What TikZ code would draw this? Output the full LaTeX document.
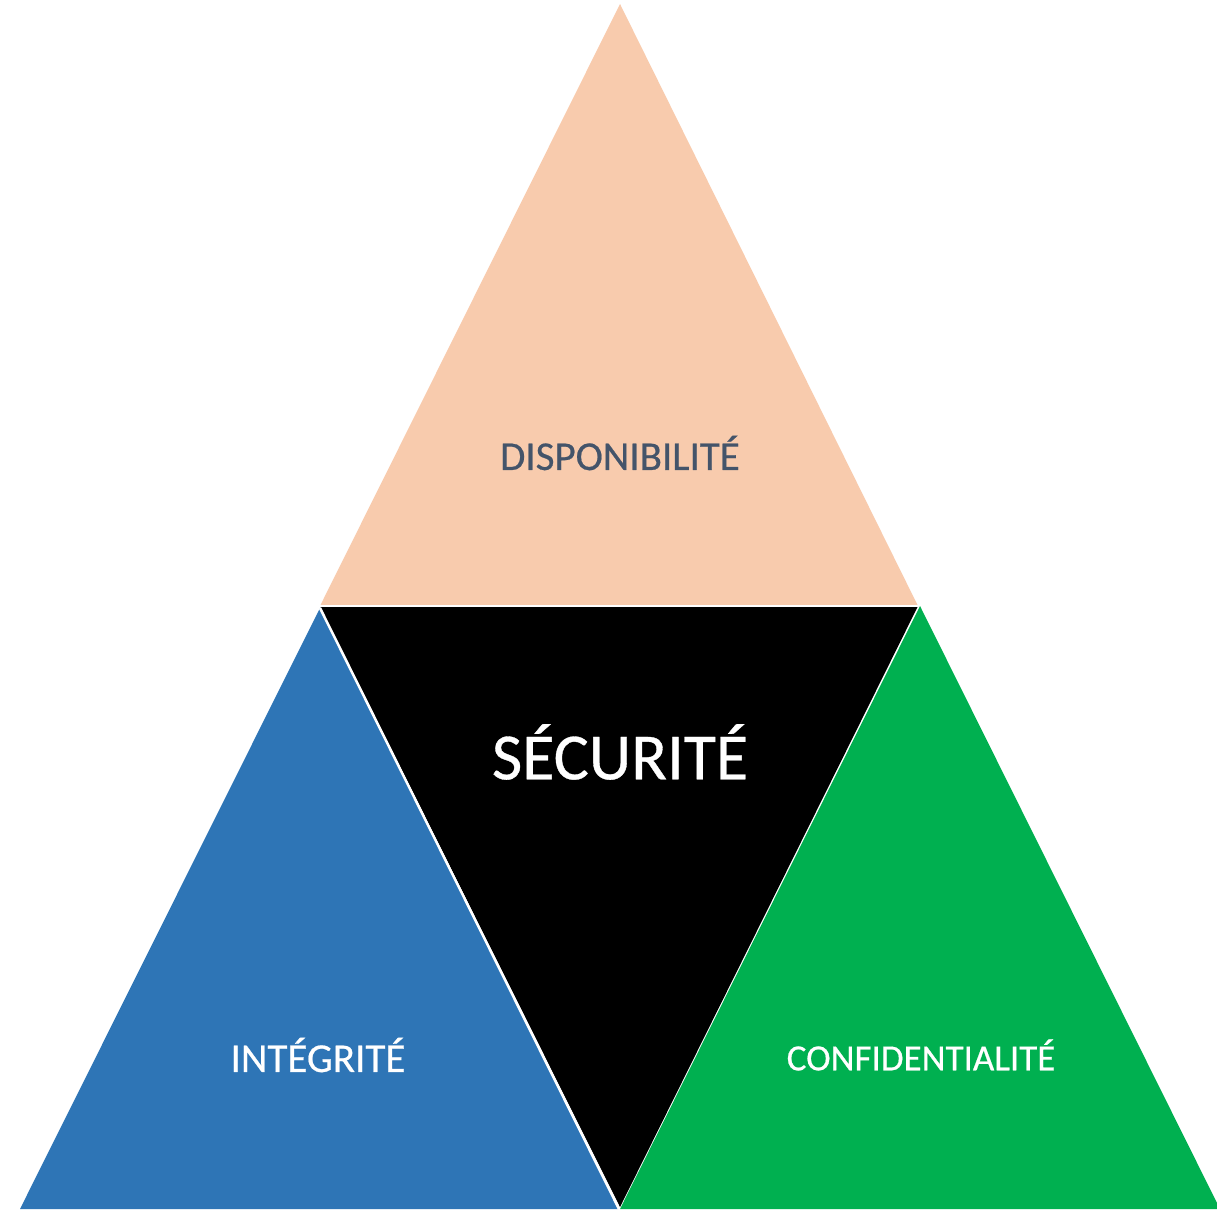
\documentclass[tikz,border=0pt]{standalone}
\usepackage{fontspec}
\setmainfont{Carlito}
\newfontfamily\lblfont{Carlito}[FakeBold=0.5]
\definecolor{peach}{HTML}{F8CBAD}
\definecolor{ibblue}{HTML}{2E75B6}
\definecolor{ibgreen}{HTML}{00B050}
\definecolor{slate}{HTML}{44546A}
\begin{document}
\begin{tikzpicture}[x=1pt,y=-1pt,
  sep/.style={draw=white,line width=2.5pt},
  lbl/.style={inner sep=0pt,font=\lblfont\fontsize{41}{41}\selectfont}]
\useasboundingbox[fill=white] (0,0) rectangle (1217,1211);
\begin{scope}
\clip (0,0) rectangle (1217,1211);
\fill[peach] (620,4) -- (918,606) -- (320,606) -- cycle;
\fill[black] (320,606) -- (918,606) -- (620,1207) -- cycle;
\fill[ibblue] (320,608) -- (618,1209) -- (20,1209) -- cycle;
\fill[ibgreen] (920,606) -- (1220,1209) -- (620,1209) -- cycle;
\draw[sep] (320,606) -- (918,606);
\draw[sep] (320,608) -- (619,1209);
\end{scope}
\node[lbl,text=slate] (dispo) at (620,453) {DISPONIBILITÉ};
\node[lbl,text=white,font=\lblfont\fontsize{66}{66}\selectfont] (secu) at (620,752) {SÉCURITÉ};
\node[lbl,text=white] (integ) at (318,1055) {INTÉGRITÉ};
\node[lbl,text=white,font=\lblfont\fontsize{37}{37}\selectfont] (confi) at (921,1055) {CONFIDENTIALITÉ};
\end{tikzpicture}
\end{document}
